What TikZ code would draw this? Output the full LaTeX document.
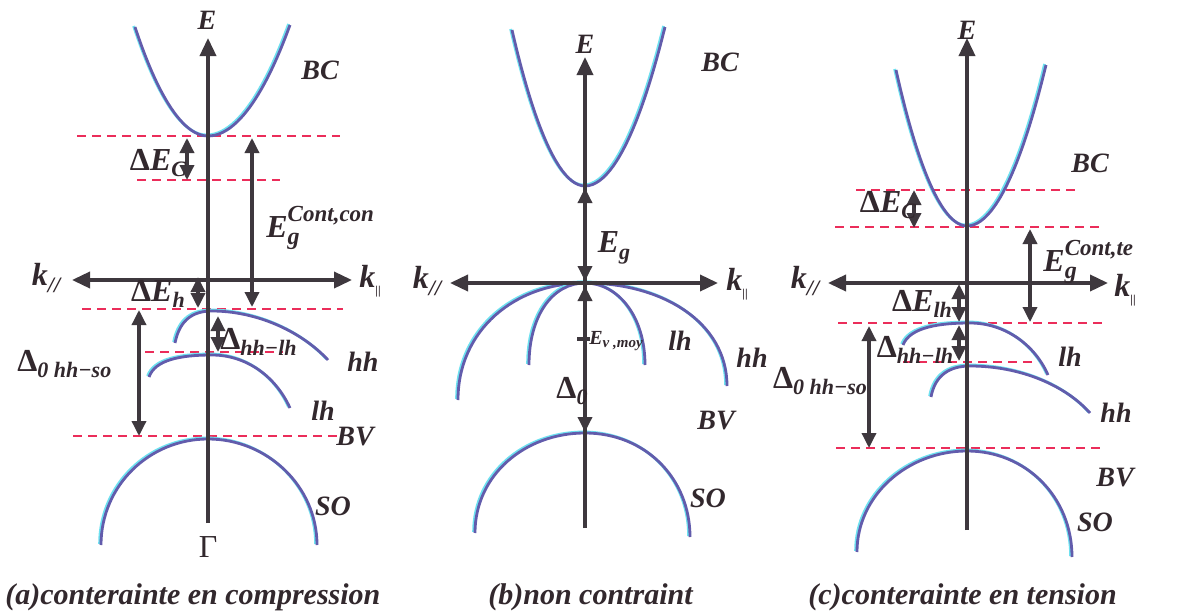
\documentclass[tikz,border=0pt]{standalone}
\usepackage{fontspec}
\setmainfont{Liberation Serif}
\usetikzlibrary{arrows.meta}
\definecolor{band}{RGB}{98,92,172}
\definecolor{halo}{RGB}{110,225,240}
\definecolor{ax}{RGB}{62,56,62}
\definecolor{dsh}{RGB}{235,45,90}
\definecolor{txt}{RGB}{50,40,45}
\newcommand{\sbs}[1]{\raisebox{-0.45ex}{\fontsize{11}{11}\selectfont #1}}
\newcommand{\D}{\textup{Δ}}
\newcommand{\EgSup}[1]{E\rlap{\raisebox{-0.5ex}{\fontsize{12}{12}\selectfont g}}\raisebox{1.1ex}{\fontsize{11.5}{11.5}\selectfont #1}}
\begin{document}
\begin{tikzpicture}[x=0.5pt,y=-0.5pt,
 bandline/.style={draw=band,line width=1.4pt,preaction={draw=halo,line width=1.4pt,transform canvas={shift={(-0.7pt,0.5pt)}}}},
 axisline/.style={draw=ax,line width=1.8pt,-{Triangle[length=9pt,width=8pt]}},
 axistwo/.style={draw=ax,line width=1.8pt,{Triangle[length=9pt,width=8pt]}-{Triangle[length=9pt,width=8pt]}},
 dbl/.style={draw=ax,line width=1.7pt,{Triangle[length=7.5pt,width=7pt]}-{Triangle[length=7.5pt,width=7pt]}},
 lvl/.style={draw=dsh,line width=0.8pt,dash pattern=on 4.5pt off 3pt},
 lbl/.style={text=txt,font=\fontsize{14}{14}\selectfont\bfseries\itshape,inner sep=0pt},
 biglbl/.style={text=txt,font=\fontsize{16}{16}\selectfont\bfseries\itshape,inner sep=0pt},
 captext/.style={text=txt,font=\fontsize{15}{15}\selectfont\bfseries\itshape,inner sep=0pt,anchor=west},
]
\useasboundingbox (0,0) rectangle (1179,616);
\fill[white] (0,0) rectangle (1179,616);

% ================= panel (a) =================
\draw[lvl] (77,136) -- (340,136);
\draw[lvl] (137,180) -- (280,180);
\draw[lvl] (82,309) -- (343,309);
\draw[lvl] (145,352) -- (283,352);
\draw[lvl] (73,436) -- (340,436);

\path[bandline] (135,27) parabola bend (208,136) (290,25);
\path[bandline] (175,343) .. controls (180,318) and (195,311) .. (212,311) .. controls (255,311) and (300,330) .. (328,360);
\path[bandline] (149,377) .. controls (155,360) and (180,355) .. (212,355) .. controls (245,355) and (275,375) .. (290,408);
\path[bandline] (101,545) .. controls (101,486) and (149,439) .. (208,439) .. controls (267,439) and (317,486) .. (317,545);

\coordinate (aB) at (208,523); \coordinate (aT) at (208,38);
\coordinate (aL) at (72,280);  \coordinate (aR) at (352,280);
\draw[axisline] (aB) -- (aT);
\draw[axistwo] (aL) -- (aR);

\coordinate (aC1) at (187,138); \coordinate (aC2) at (187,180);
\coordinate (aG1) at (252,138); \coordinate (aG2) at (252,307);
\coordinate (aH1) at (198,277); \coordinate (aH2) at (198,308);
\coordinate (aS1) at (139,310); \coordinate (aS2) at (139,436);
\coordinate (aL1) at (218,316); \coordinate (aL2) at (218,352);
\draw[dbl] (aC1) -- (aC2);
\draw[dbl] (aG1) -- (aG2);
\draw[dbl] (aH1) -- (aH2);
\draw[dbl] (aS1) -- (aS2);
\draw[dbl] (aL1) -- (aL2);

\node[lbl] (aE) at (207,20) {E};
\node[biglbl] (akl) at (46,278) {k\sbs{//}};
\node[biglbl] (akr) at (370,281) {k\sbs{\textup{\fontsize{6}{6}\selectfont ||}}};
\node[lbl] (aBC) at (320,70) {BC};
\node[biglbl] (adc) at (158,163) {\D E\sbs{C}};
\node[biglbl,anchor=west] (aeg) at (266,228) {\EgSup{Cont,con}};
\node[biglbl] (adh) at (158,294) {\D E\sbs{h}};
\node[biglbl,anchor=west] (ads) at (17,364) {\D\sbs{0 hh−so}};
\node[biglbl,anchor=west] (adl) at (220,342) {\D\sbs{hh−lh}};
\node[lbl] (ahh) at (363,362) {hh};
\node[lbl] (alh) at (323,411) {lh};
\node[lbl] (aBV) at (355,437) {BV};
\node[lbl] (aSO) at (333,506) {SO};
\node[text=txt,font=\fontsize{16}{16}\selectfont,inner sep=0pt] (aG) at (208,547) {Γ};
\node[captext] (acap) at (5,597) {(a)conterainte en compression};

% ================= panel (b) =================
\path[bandline] (512,30) parabola bend (585,186) (665,27);
\path[bandline] (458,400) .. controls (458,330) and (515,283) .. (585,283) .. controls (662,283) and (727,322) .. (727,386);
\path[bandline] (529,365) .. controls (529,315) and (553,283) .. (585,283) .. controls (617,283) and (645,315) .. (645,365);
\path[bandline] (475,533) .. controls (475,475) and (525,433) .. (585,433) .. controls (645,433) and (690,478) .. (690,537);

\coordinate (bB) at (585,528); \coordinate (bT) at (585,57);
\coordinate (bL) at (450,283); \coordinate (bR) at (718,283);
\draw[axisline] (bB) -- (bT);
\draw[axistwo] (bL) -- (bR);

\coordinate (bG1) at (585,188); \coordinate (bG2) at (585,281);
\coordinate (bS1) at (585,286); \coordinate (bS2) at (585,432);
\draw[dbl] (bG1) -- (bG2);
\draw[dbl] (bS1) -- (bS2);
\coordinate (bm1) at (577,339); \coordinate (bm2) at (590,339);
\draw[draw=ax,line width=1.6pt] (bm1) -- (bm2);

\node[lbl] (bE) at (585,44) {E};
\node[biglbl] (bkl) at (427,281) {k\sbs{//}};
\node[biglbl] (bkr) at (737,284) {k\sbs{\textup{\fontsize{6}{6}\selectfont ||}}};
\node[lbl] (bBC) at (720,62) {BC};
\node[biglbl] (beg) at (614,248) {E\sbs{g}};
\node[text=txt,font=\fontsize{10}{10}\selectfont\bfseries\itshape,inner sep=0pt,anchor=west] (bev) at (589,341) {E\raisebox{-0.4ex}{\fontsize{7.5}{7.5}\selectfont v ,moy}};
\node[biglbl] (bd0) at (572,391) {\D\sbs{0}};
\node[lbl] (blh) at (680,341) {lh};
\node[lbl] (bhh) at (752,358) {hh};
\node[lbl] (bBV) at (716,421) {BV};
\node[lbl] (bSO) at (708,498) {SO};
\node[captext] (bcap) at (488,597) {(b)non contraint};

% ================= panel (c) =================
\draw[lvl] (856,190) -- (1080,190);
\draw[lvl] (835,227) -- (1100,227);
\draw[lvl] (838,323) -- (1103,323);
\draw[lvl] (903,362) -- (1035,362);
\draw[lvl] (836,448) -- (1103,448);

\path[bandline] (896,70) parabola bend (967,226) (1046,65);
\path[bandline] (903,345) .. controls (910,327) and (940,323) .. (970,323) .. controls (1005,323) and (1035,345) .. (1048,375);
\path[bandline] (931,397) .. controls (935,375) and (950,366) .. (970,366) .. controls (1020,366) and (1065,385) .. (1090,413);
\path[bandline] (857,552) .. controls (857,495) and (908,451) .. (967,451) .. controls (1026,451) and (1072,497) .. (1072,557);

\coordinate (cB) at (967,530); \coordinate (cT) at (967,38);
\coordinate (cL) at (828,283); \coordinate (cR) at (1108,283);
\draw[axisline] (cB) -- (cT);
\draw[axistwo] (cL) -- (cR);

\coordinate (cC1) at (914,190); \coordinate (cC2) at (914,228);
\coordinate (cG1) at (1030,229); \coordinate (cG2) at (1030,322);
\coordinate (cH1) at (959,284); \coordinate (cH2) at (959,322);
\coordinate (cL1) at (959,325); \coordinate (cL2) at (959,361);
\coordinate (cS1) at (869,326); \coordinate (cS2) at (869,448);
\draw[dbl] (cC1) -- (cC2);
\draw[dbl] (cG1) -- (cG2);
\draw[dbl] (cH1) -- (cH2);
\draw[dbl] (cL1) -- (cL2);
\draw[dbl] (cS1) -- (cS2);

\node[lbl] (cE) at (967,30) {E};
\node[biglbl] (ckl) at (805,281) {k\sbs{//}};
\node[biglbl] (ckr) at (1125,290) {k\sbs{\textup{\fontsize{6}{6}\selectfont ||}}};
\node[lbl] (cBC) at (1090,163) {BC};
\node[biglbl] (cdc) at (888,205) {\D E\sbs{C}};
\node[biglbl,anchor=west] (ceg) at (1043,262) {\EgSup{Cont,te}};
\node[biglbl] (cdh) at (922,304) {\D E\sbs{lh}};
\node[biglbl] (cdl) at (915,350) {\D\sbs{hh−lh}};
\node[biglbl] (cds) at (820,381) {\D\sbs{0 hh−so}};
\node[lbl] (clh) at (1070,357) {lh};
\node[lbl] (chh) at (1116,413) {hh};
\node[lbl] (cBV) at (1115,478) {BV};
\node[lbl] (cSO) at (1095,522) {SO};
\node[captext] (ccap) at (808,597) {(c)conterainte en tension};
\end{tikzpicture}
\end{document}
